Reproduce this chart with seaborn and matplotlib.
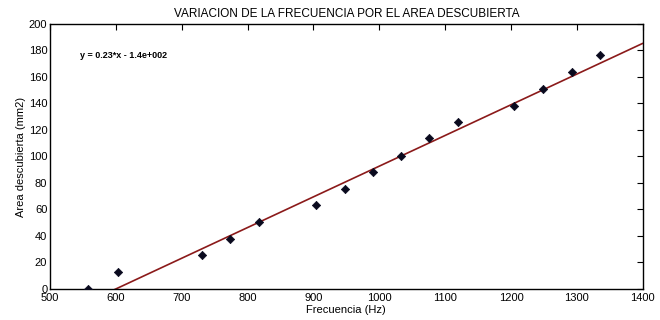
import numpy as np
import pandas as pd
import matplotlib
matplotlib.use("Agg")
import matplotlib.pyplot as plt
import seaborn as sns

# Data
frecuencia = [558, 603, 731, 774, 818, 904, 948, 990, 1033, 1076, 1119, 1205, 1248, 1292, 1335]
area = [0, 12.8, 25.5, 38, 50.3, 63.4, 75.7, 88.3, 100.6, 113.7, 126, 138.3, 150.7, 164, 176.6]
fit_coef = [0.2317, -139.0]   # slope, intercept of the drawn fit line
x_ticks = [500, 600, 700, 800, 900, 1000, 1100, 1200, 1300, 1400]
y_ticks = [0, 20, 40, 60, 80, 100, 120, 140, 160, 180, 200]

title = "VARIACION DE LA FRECUENCIA POR EL AREA DESCUBIERTA"
xlabel = "Frecuencia (Hz)"
ylabel = "Area descubierta (mm2)"
eq_text = "y = 0.23*x - 1.4e+002"

sns.set_theme(style="white")
plt.rcParams['font.family'] = ['Liberation Sans', 'DejaVu Sans']
plt.rcParams['text.color'] = 'black'
plt.rcParams['axes.labelcolor'] = 'black'

df = pd.DataFrame({"Frecuencia": frecuencia, "Area": area})
line_x = np.array([x_ticks[0], x_ticks[-1]], dtype=float)
line_df = pd.DataFrame({"x": line_x, "y": fit_coef[0] * line_x + fit_coef[1]})

fig = plt.figure(figsize=(6.6, 3.2), dpi=100)
ax = fig.add_axes([0.0758, 0.097, 0.898, 0.828])

sns.lineplot(data=line_df, x="x", y="y", ax=ax, color="#8b1a1a", linewidth=1.2)
sns.scatterplot(data=df, x="Frecuencia", y="Area", ax=ax, marker="D", s=18,
                color="#0a0a1e", edgecolor="#0a0a1e", linewidth=0.5, zorder=3)

ax.set_xlim(500, 1400)
ax.set_ylim(0, 200)
ax.set_xticks(x_ticks)
ax.set_yticks(y_ticks)
ax.tick_params(direction="in", length=4, width=0.8, top=True, right=True,
               labelsize=8, colors="black", pad=2)
ax.tick_params(axis="x", pad=3)
for s in ax.spines.values():
    s.set_visible(True)
    s.set_color("black")
    s.set_linewidth(1.0)

ax.set_xlabel(xlabel, fontsize=8, labelpad=1, color="black")
ax.set_ylabel(ylabel, fontsize=8, labelpad=2, color="black")
ax.set_title(title, fontsize=8.5, pad=5, color="black")
ax.text(545, 176, eq_text, fontsize=6.5, fontweight="bold", va="center", ha="left", color="black")

fig.savefig("out.png", dpi=100)
